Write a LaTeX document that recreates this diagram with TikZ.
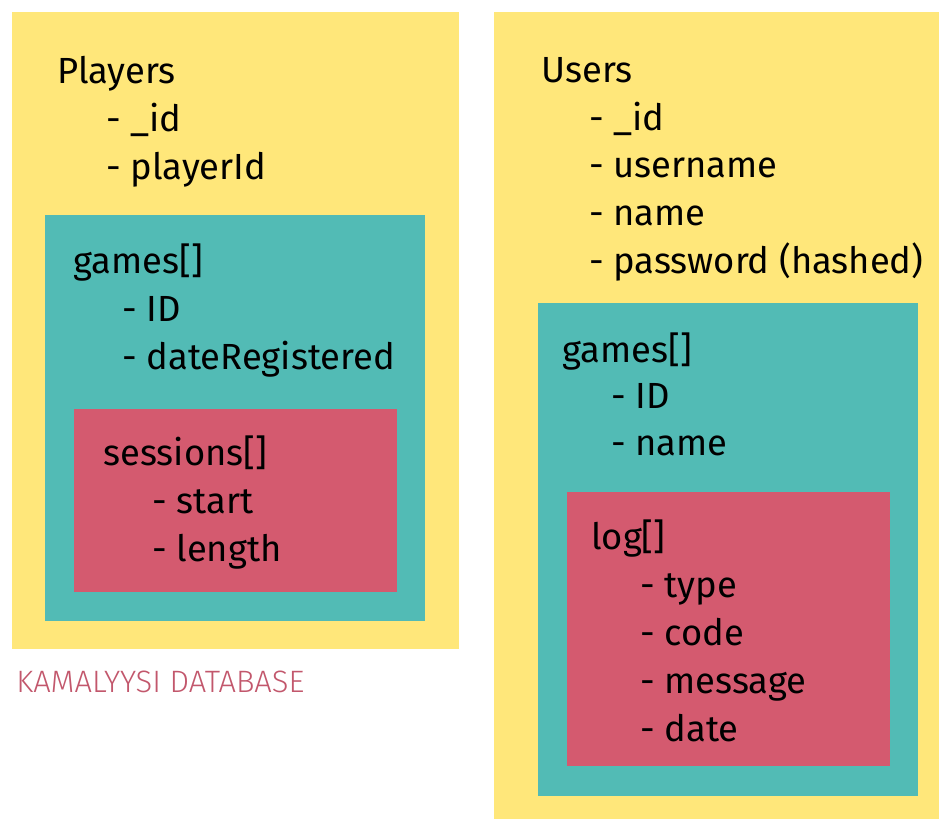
\documentclass[tikz,border=0pt]{standalone}
\usepackage{fontspec}
\setmainfont{Fira Sans}
\newfontfamily\thinfont{Fira Sans Light}
\usetikzlibrary{positioning}

\definecolor{docyellow}{HTML}{FFE77A}
\definecolor{subteal}{HTML}{52BBB5}
\definecolor{subred}{HTML}{D45A6F}
\definecolor{captionred}{HTML}{C2576C}

\begin{document}
\begin{tikzpicture}[
        x=0.02cm, y=-0.02cm,
        panel/.style={rectangle, inner sep=0pt, outer sep=0pt, anchor=north west},
        field/.style={anchor=base west, inner sep=0pt, font=\fontsize{20.7pt}{26pt}\selectfont}
    ]

        \useasboundingbox (0,0) rectangle (939,819);

        % Players collection
        \node[panel, fill=docyellow, minimum width=8.94cm, minimum height=12.74cm] (players) at (12,12) {};
        \node[panel, fill=subteal, minimum width=7.6cm, minimum height=8.12cm] (pgames) at (45,215) {};
        \node[panel, fill=subred, minimum width=6.46cm, minimum height=3.66cm] (sessions) at (74,409) {};

        \node[field] (ptitle) at (57,83) {Players};
        \node[field] (pid) at (106,131) {- \_id};
        \node[field] (pplayer) at (106,179) {- playerId};

        \node[field] (pgtitle) at (73,273) {games[]};
        \node[field] (pgid) at (122,321) {- ID};
        \node[field] (pgdate) at (122,369) {- dateRegistered};

        \node[field] (stitle) at (103,465) {sessions[]};
        \node[field] (sstart) at (152,513) {- start};
        \node[field] (slength) at (152,561) {- length};

        \node[anchor=base west, inner sep=0pt, text=captionred,
              font=\thinfont\fontsize{17.6pt}{20pt}\selectfont] (caption) at (16,692) {KAMALYYSI DATABASE};

        % Users collection
        \node[panel, fill=docyellow, minimum width=8.9cm, minimum height=16.14cm] (users) at (494,12) {};
        \node[panel, fill=subteal, minimum width=7.6cm, minimum height=9.86cm] (ugames) at (538,303) {};
        \node[panel, fill=subred, minimum width=6.46cm, minimum height=5.48cm] (log) at (567,492) {};

        \node[field] (utitle) at (541,82) {Users};
        \node[field] (uid) at (589,130) {- \_id};
        \node[field] (uuser) at (589,177) {- username};
        \node[field] (uname) at (589,225) {- name};
        \node[field] (upass) at (589,273) {- password (hashed)};

        \node[field] (ugtitle) at (562,362) {games[]};
        \node[field] (ugid) at (611,408) {- ID};
        \node[field] (ugname) at (611,455) {- name};

        \node[field] (ltitle) at (591,549) {log[]};
        \node[field] (ltype) at (640,597) {- type};
        \node[field] (lcode) at (640,645) {- code};
        \node[field] (lmsg) at (640,693) {- message};
        \node[field] (ldate) at (640,741) {- date};

    \end{tikzpicture}
\end{document}
